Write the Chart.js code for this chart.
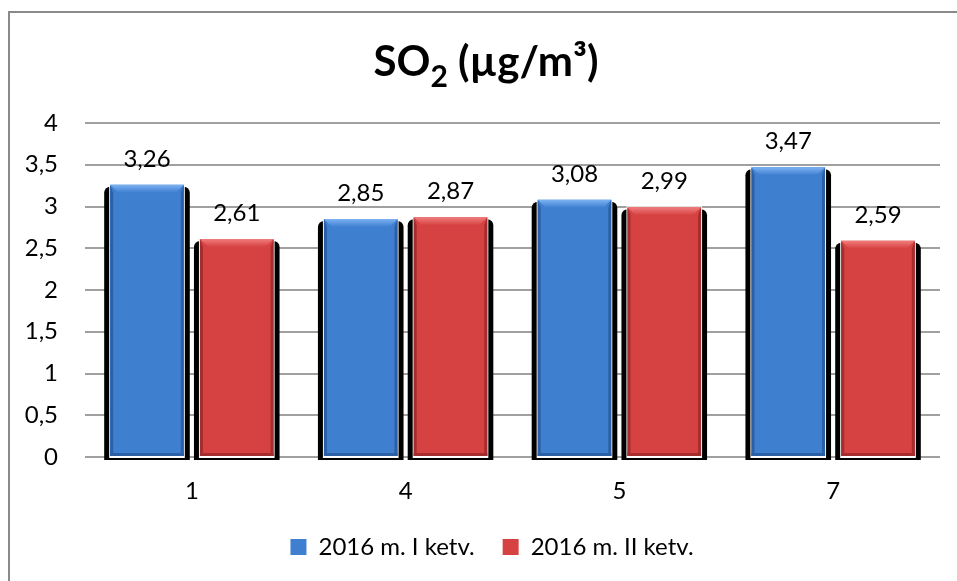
<!DOCTYPE html>
<html>
<head>
<meta charset="utf-8">
<script src="https://cdn.jsdelivr.net/npm/chart.js@4.4.0/dist/chart.umd.min.js"></script>
<style>
  body { margin: 0; background: #fff; }
  #wrap { width: 957px; height: 581px; position: relative; }
</style>
</head>
<body>
<div id="wrap"><canvas id="so2"></canvas></div>
<script>
const categories = ['1', '4', '5', '7'];
const firstQuarter = [3.26, 2.85, 3.08, 3.47];
const secondQuarter = [2.61, 2.87, 2.99, 2.59];
const seriesNames = ['2016 m. I ketv.', '2016 m. II ketv.'];
const yTicks = [0, 0.5, 1, 1.5, 2, 2.5, 3, 3.5, 4];

const FONT = 'Lato, "Noto Sans", sans-serif';
const comma = v => String(v).replace('.', ',');

// colours: body, light bevel, dark edge
const palette = [
  { body: '#3f7fd0', light: '#7cb2f2', dark: '#2b5fa6' },
  { body: '#d64141', light: '#f07c7c', dark: '#a52d2d' }
];

// black drop shadow behind each bar, like the Excel chart
const barShadow = {
  id: 'barShadow',
  beforeDatasetsDraw(chart) {
    const ctx = chart.ctx;
    ctx.save();
    chart.data.datasets.forEach((ds, i) => {
      chart.getDatasetMeta(i).data.forEach(bar => {
        const p = bar.getProps(['x', 'y', 'width', 'base'], true);
        const l = p.x - p.width / 2 - 6, r = p.x + p.width / 2 + 6;
        ctx.fillStyle = '#000';
        ctx.beginPath();
        ctx.roundRect(l, p.y + 2, r - l, p.base - p.y + 2, [6, 6, 0, 0]);
        ctx.fill();
        ctx.fillStyle = '#fff';
        ctx.fillRect(l + 5, p.y - 1, r - l - 10, p.base - p.y + 3);
      });
    });
    ctx.restore();
  },
  afterDatasetsDraw(chart) {
    const ctx = chart.ctx;
    ctx.save();
    chart.data.datasets.forEach((ds, i) => {
      const c = palette[i];
      chart.getDatasetMeta(i).data.forEach((bar, j) => {
        const p = bar.getProps(['x', 'y', 'width', 'base'], true);
        const x0 = p.x - p.width / 2, x1 = p.x + p.width / 2;
        const b = 8;
        // top bevel
        const g = ctx.createLinearGradient(0, p.y, 0, p.y + b);
        g.addColorStop(0, c.light);
        g.addColorStop(1, c.body);
        ctx.fillStyle = g;
        ctx.beginPath();
        ctx.moveTo(x0, p.y); ctx.lineTo(x1, p.y);
        ctx.lineTo(x1 - b, p.y + b); ctx.lineTo(x0 + b, p.y + b);
        ctx.closePath(); ctx.fill();
        // side edges
        ctx.fillStyle = c.dark;
        ctx.beginPath();
        ctx.moveTo(x0, p.y); ctx.lineTo(x0 + 3, p.y + b); ctx.lineTo(x0 + 3, p.base - 3); ctx.lineTo(x0, p.base);
        ctx.closePath(); ctx.fill();
        ctx.beginPath();
        ctx.moveTo(x1, p.y); ctx.lineTo(x1 - 3, p.y + b); ctx.lineTo(x1 - 3, p.base - 3); ctx.lineTo(x1, p.base);
        ctx.closePath(); ctx.fill();
        ctx.fillRect(x0, p.base - 3, p.width, 3);
        // value label
        ctx.fillStyle = '#000';
        ctx.font = '24px ' + FONT;
        ctx.textAlign = 'center';
        ctx.textBaseline = 'alphabetic';
        ctx.fillText(comma(ds.data[j]), p.x, p.y - 18);
      });
    });
    ctx.restore();
  }
};

// title with real subscript / superscript, plus the outer frame
const frameAndTitle = {
  id: 'frameAndTitle',
  afterLayout(chart) {
    // legend in the original sits a bit right of the canvas centre
    chart.legend.left += 44;
  },
  afterDraw(chart) {
    const ctx = chart.ctx;
    ctx.save();
    ctx.strokeStyle = '#8a8a8a';
    ctx.lineWidth = 2;
    ctx.beginPath();
    ctx.moveTo(9, 581); ctx.lineTo(9, 12); ctx.lineTo(957, 12);
    ctx.stroke();

    const big = 'bold 42px ' + FONT, small = 'bold 30px ' + FONT;
    ctx.fillStyle = '#000';
    ctx.textBaseline = 'alphabetic';
    ctx.textAlign = 'left';
    ctx.font = big; const w1 = ctx.measureText('SO').width;
    ctx.font = small; const w2 = ctx.measureText('2').width;
    ctx.font = big; const w3 = ctx.measureText(' (µg/m³)').width;
    let x = 486 - (w1 + w2 + w3) / 2;
    ctx.font = big; ctx.fillText('SO', x, 76); x += w1;
    ctx.font = small; ctx.fillText('2', x, 87); x += w2;
    ctx.font = big; ctx.fillText(' (µg/m³)', x, 76);
    ctx.restore();
  }
};

new Chart(document.querySelector('#so2'), {
  type: 'bar',
  data: {
    labels: categories,
    datasets: [
      {
        label: seriesNames[0],
        data: firstQuarter,
        backgroundColor: palette[0].body,
        borderWidth: 0
      },
      {
        label: seriesNames[1],
        data: secondQuarter,
        backgroundColor: palette[1].body,
        borderWidth: 0
      }
    ]
  },
  options: {
    responsive: true,
    maintainAspectRatio: false,
    animation: false,
    datasets: {
      bar: { categoryPercentage: 0.84, barPercentage: 0.82 }
    },
    layout: {
      padding: { top: 123, right: 17, bottom: 12, left: 0 }
    },
    scales: {
      x: {
        grid: { display: false },
        border: { display: false },
        ticks: { color: '#000', font: { family: FONT, size: 24 }, padding: 12 },
        afterFit(scale) { scale.height = 50; }
      },
      y: {
        min: 0,
        max: 4,
        afterBuildTicks(scale) { scale.ticks = yTicks.map(v => ({ value: v })); },
        grid: { color: '#a0a0a0', lineWidth: 2, drawTicks: false },
        border: { display: false },
        ticks: {
          color: '#000',
          font: { family: FONT, size: 24 },
          padding: 27,
          callback: v => comma(v)
        },
        afterFit(scale) { scale.width = 85; }
      }
    },
    plugins: {
      legend: {
        position: 'bottom',
        labels: {
          color: '#000',
          font: { family: FONT, size: 24 },
          boxWidth: 16,
          boxHeight: 16,
          padding: 28
        }
      },
      title: { display: false },
      tooltip: { enabled: false }
    }
  },
  plugins: [barShadow, frameAndTitle]
});
</script>
</body>
</html>
